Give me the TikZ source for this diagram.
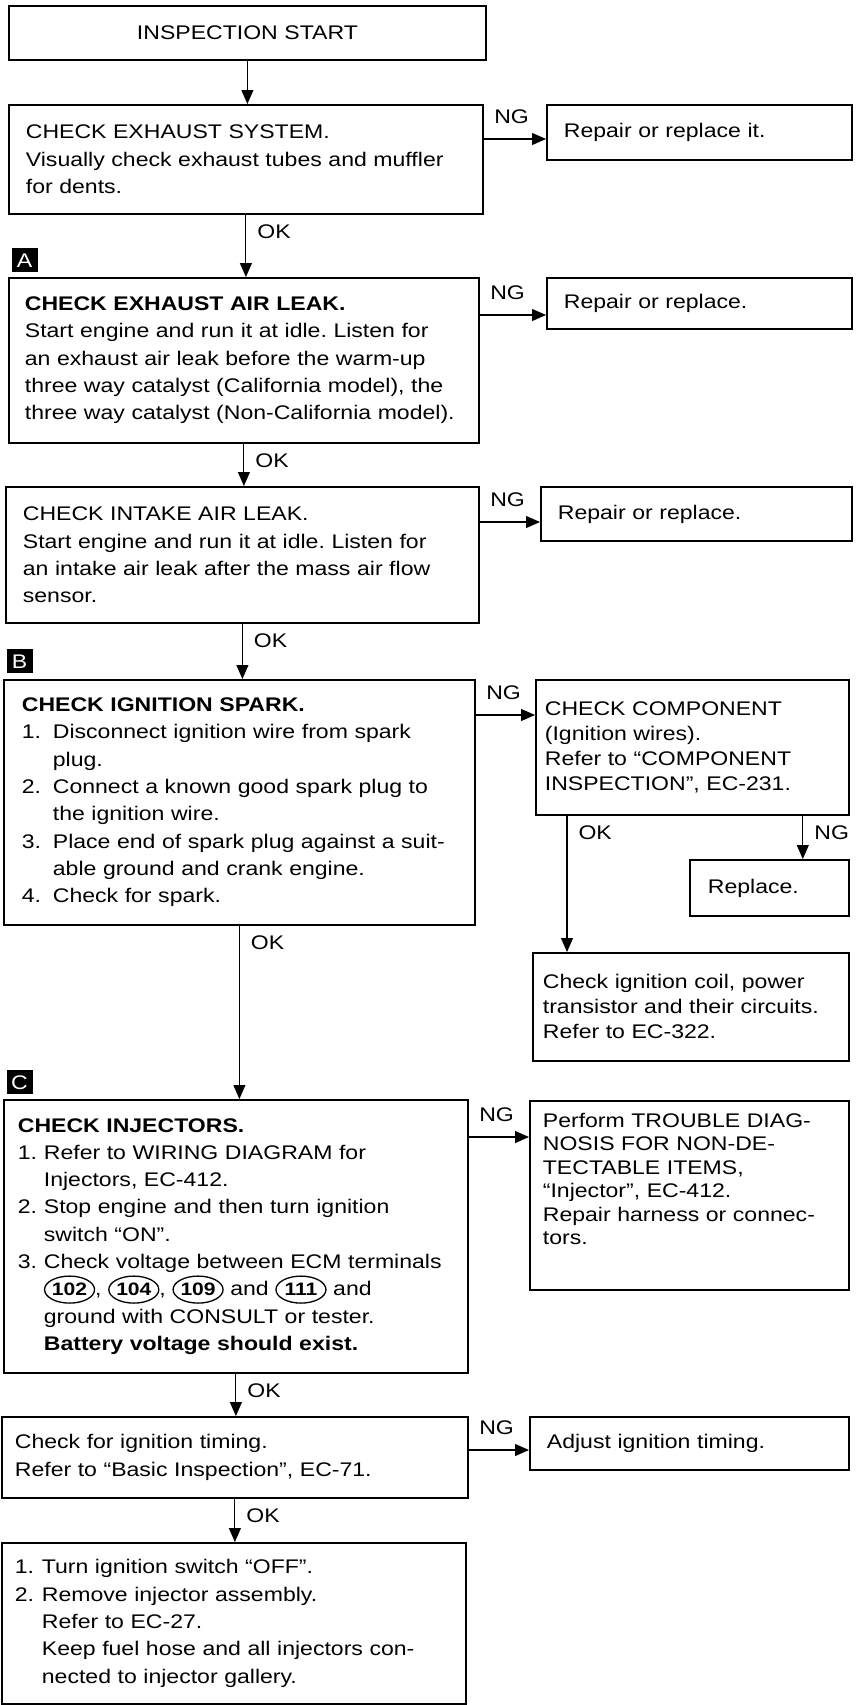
\documentclass[tikz,border=0pt]{standalone}
\usepackage{fontspec}
\setmainfont{Liberation Sans}[FakeStretch=1.17]
\usetikzlibrary{arrows.meta,positioning,shapes.geometric}
\frenchspacing

% numbered steps with hanging continuation lines
\newcommand{\stepno}[2][26pt]{\makebox[#1][l]{#2}}
\newcommand{\stepin}[1][26pt]{\hspace*{#1}}
% ECM terminal number in an oval
\newcommand{\ecmpin}[1]{\tikz[baseline=(t.base)]\node[draw, ellipse, line width=1.3pt, text width={}, minimum width=50pt, minimum height=27pt, inner sep=0pt, font=\bfseries\fontsize{18}{18}\selectfont] (t) {#1};}

\begin{document}
\begin{tikzpicture}[x=1pt, y=-1pt, >={Triangle[length=14pt, width=12pt]}, line width=1.1pt,
  every node/.style={font=\fontsize{19.7}{27.3}\selectfont},
  box/.style={draw, line width=1.8pt, anchor=north west, align=left, inner xsep=17pt, inner ysep=0pt},
  rbox/.style={box, font=\fontsize{19.7}{25}\selectfont},
  tag/.style={fill=black, text=white, minimum width=26pt, minimum height=24pt, inner sep=0pt},
  okl/.style={anchor=north west, pos=0, xshift=11pt, yshift=-9pt, inner sep=0pt},
  ngl/.style={anchor=south west, pos=0, xshift=10pt, yshift=15pt, inner sep=0pt}]
  \useasboundingbox (0,0) rectangle (862,1705);

  % main column
  \node[box, align=center, text width=443pt, minimum height=54pt] (start) at (8,5) {INSPECTION START};
  \node[box, text width=440pt, minimum height=109pt] (b2) at (8,104) {CHECK EXHAUST SYSTEM.\\ Visually check exhaust tubes and muffler\\ for dents.};
  \node[box, inner xsep=16pt, text width=438pt, minimum height=165pt] (b3) at (8,277) {\textbf{CHECK EXHAUST AIR LEAK.}\\ Start engine and run it at idle. Listen for\\ an exhaust air leak before the warm-up\\ three way catalyst (California model), the\\ three way catalyst (Non-California model).};
  \node[box, text width=439pt, minimum height=136pt] (b4) at (5,486) {CHECK INTAKE AIR LEAK.\\ Start engine and run it at idle. Listen for\\ an intake air leak after the mass air flow\\ sensor.};
  \node[box, inner xsep=18pt, text width=435pt, minimum height=245pt] (b5) at (3,679) {\textbf{CHECK IGNITION SPARK.}\\
    \stepno[31pt]{1.}Disconnect ignition wire from spark\\ \stepin[31pt]plug.\\
    \stepno[31pt]{2.}Connect a known good spark plug to\\ \stepin[31pt]the ignition wire.\\
    \stepno[31pt]{3.}Place end of spark plug against a suit-\\ \stepin[31pt]able ground and crank engine.\\
    \stepno[31pt]{4.}Check for spark.};
  \node[box, inner xsep=14pt, text width=436pt, minimum height=273pt] (b6) at (3,1099) {\textbf{CHECK INJECTORS.}\\
    \stepno{1.}Refer to WIRING DIAGRAM for\\ \stepin Injectors, EC-412.\\
    \stepno{2.}Stop engine and then turn ignition\\ \stepin switch “ON”.\\
    \stepno{3.}Check voltage between ECM terminals\\ \stepin\ecmpin{102}, \ecmpin{104}, \ecmpin{109} and \ecmpin{111} and\\ \stepin ground with CONSULT or tester.\\ \stepin\textbf{Battery voltage should exist.}};
  \node[box, inner xsep=13pt, text width=440pt, minimum height=81pt] (b7) at (1,1416) {Check for ignition timing.\\ Refer to “Basic Inspection”, EC-71.};
  \node[box, inner xsep=13pt, text width=438pt, minimum height=161pt] (b8) at (1,1542) {\stepno[27pt]{1.}Turn ignition switch “OFF”.\\ \stepno[27pt]{2.}Remove injector assembly.\\ \stepin[27pt]Refer to EC-27.\\ \stepin[27pt]Keep fuel hose and all injectors con-\\ \stepin[27pt]nected to injector gallery.};

  % NG branches
  \node[rbox, text width=271pt, minimum height=55pt] (r2) at (546,104) {Repair or replace it.};
  \node[rbox, text width=271pt, minimum height=51pt] (r3) at (546,277) {Repair or replace.};
  \node[rbox, text width=277pt, minimum height=54pt] (r4) at (540,486) {Repair or replace.};
  \node[rbox, inner xsep=9pt, text width=295pt, minimum height=135pt] (comp) at (535,679) {CHECK COMPONENT\\ (Ignition wires).\\ Refer to “COMPONENT\\ INSPECTION”, EC-231.};
  \node[rbox, inner xsep=18pt, text width=123pt, minimum height=56pt] (rep) at (689,859) {Replace.};
  \node[rbox, inner xsep=10pt, text width=296pt, minimum height=108pt] (coil) at (532,952) {Check ignition coil, power\\ transistor and their circuits.\\ Refer to EC-322.};
  \node[rbox, inner xsep=13pt, text width=293pt, text depth=150pt, minimum height=189pt, font=\fontsize{19.7}{23.4}\selectfont] (perf) at (529,1100) {Perform TROUBLE DIAG-\\ NOSIS FOR NON-DE-\\ TECTABLE ITEMS,\\ “Injector”, EC-412.\\ Repair harness or connec-\\ tors.};
  \node[rbox, text width=285pt, minimum height=53pt] (adj) at (529,1416) {Adjust ignition timing.};

  % section tags
  \node[tag, above right=4pt and 3pt of b3.north west] (tagA) {A};
  \node[tag, above right=5pt and 3pt of b5.north west] (tagB) {B};
  \node[tag, above right=4pt and 3pt of b6.north west] (tagC) {C};

  % OK path
  \draw[->] (start.south) -- (start.south |- b2.north);
  \draw[->] (b2.south) -- (b2.south |- b3.north) node[okl] {OK};
  \draw[->] (b3.south) -- (b3.south |- b4.north) node[okl] {OK};
  \draw[->] (b4.south) -- (b4.south |- b5.north) node[okl] {OK};
  \draw[->] (b5.south) -- (b5.south |- b6.north) node[okl] {OK};
  \draw[->] (b6.south) -- (b6.south |- b7.north) node[okl] {OK};
  \draw[->] (b7.south) -- (b7.south |- b8.north) node[okl] {OK};

  % NG arrows
  \coordinate (n2) at ([yshift=-35pt]r2.north west); \coordinate (n3) at ([yshift=-38pt]r3.north west);
  \coordinate (n4) at ([yshift=-36pt]r4.north west); \coordinate (n5) at ([yshift=-36pt]comp.north west);
  \coordinate (n6) at ([yshift=-37pt]perf.north west); \coordinate (n7) at ([yshift=-34pt]adj.north west);
  \draw[->] (b2.east |- n2) -- (n2) node[ngl] {NG};
  \draw[->] (b3.east |- n3) -- (n3) node[ngl] {NG};
  \draw[->] (b4.east |- n4) -- (n4) node[ngl] {NG};
  \draw[->] (b5.east |- n5) -- (n5) node[ngl] {NG};
  \draw[->] (b6.east |- n6) -- (n6) node[ngl] {NG};
  \draw[->] (b7.east |- n7) -- (n7) node[ngl] {NG};

  % component check outcomes
  \coordinate (cok) at ([xshift=32pt]comp.south west); \coordinate (cng) at ([xshift=-47pt]comp.south east);
  \draw[->] (cok) -- (cok |- coil.north) node[okl] {OK};
  \draw[->] (cng) -- (cng |- rep.north) node[okl] {NG};
\end{tikzpicture}
\end{document}
